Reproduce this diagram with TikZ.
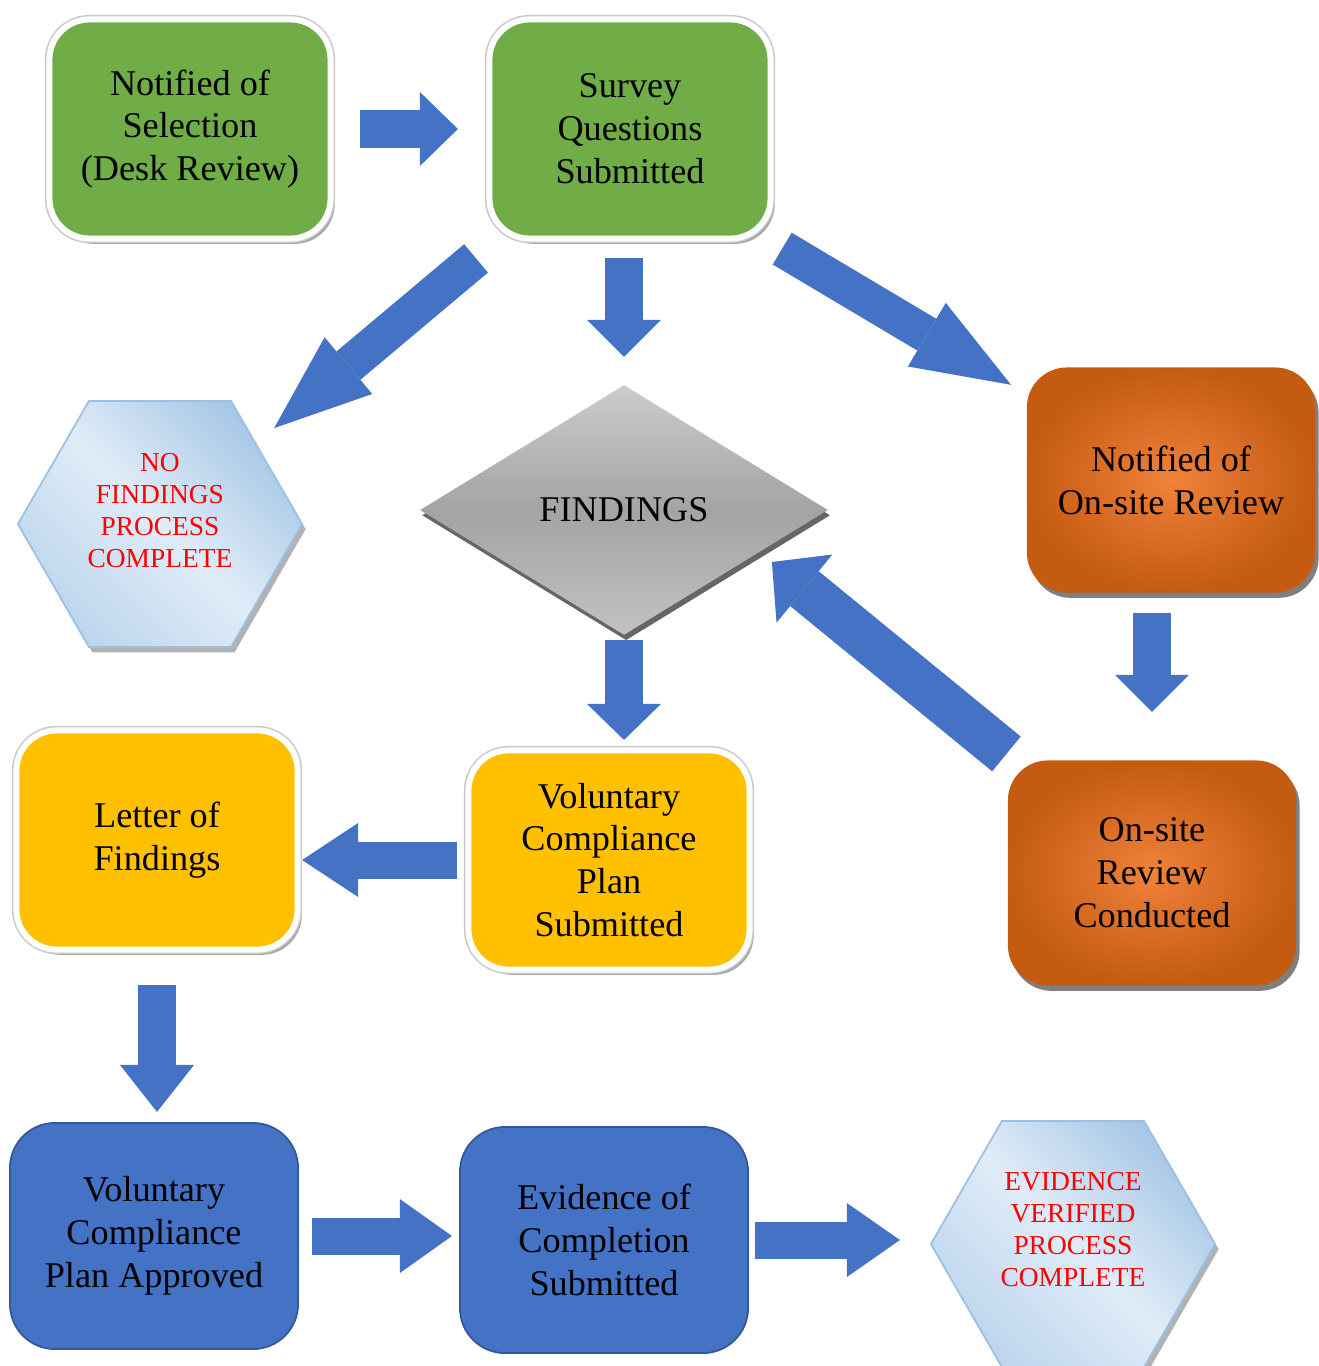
\documentclass[tikz,border=0pt]{standalone}
\usepackage{fontspec}
\setmainfont{Liberation Serif}
\usetikzlibrary{arrows.meta,shapes.geometric,shadows}
\definecolor{boxgreen}{RGB}{112,173,71}
\definecolor{boxyellow}{RGB}{255,192,0}
\definecolor{boxblue}{RGB}{68,114,196}
\definecolor{blueedge}{RGB}{52,88,155}
\definecolor{orangelight}{RGB}{240,130,58}
\definecolor{orangedark}{RGB}{197,90,17}
\definecolor{hexlight}{RGB}{224,236,248}
\definecolor{hexdark}{RGB}{166,199,230}
\definecolor{hexedge}{RGB}{157,192,226}
\definecolor{ringgray}{RGB}{200,200,200}
\definecolor{arrowblue}{RGB}{68,114,196}
\definecolor{donered}{RGB}{255,0,0}

\begin{document}
\begin{tikzpicture}[x=0.01cm,y=-0.01cm,
  boxtext/.style={align=center,font=\fontsize{10.3}{12.2}\selectfont,text=black},
  hexatext/.style={align=center,font=\fontsize{7.8}{9.1}\selectfont,text=donered},
  roundbox/.style={boxtext,rectangle,rounded corners=0.4cm,inner sep=0pt},
  ringbox/.style={roundbox,fill=#1,draw=white,line width=0.06cm,minimum width=2.81cm,minimum height=2.19cm,
    drop shadow={shadow xshift=1.2pt,shadow yshift=-1.5pt,opacity=0.35,fill=black},
    preaction={draw=ringgray,line width=0.09cm}},
  orangebox/.style={roundbox,shading=radial,inner color=orangelight,outer color=orangedark,
    minimum width=2.88cm,minimum height=2.25cm,
    drop shadow={shadow xshift=1pt,shadow yshift=-1.5pt,opacity=0.5,fill=black}},
  bluebox/.style={roundbox,fill=boxblue,draw=blueedge,line width=0.5pt,rounded corners=0.45cm,
    minimum width=2.88cm,minimum height=2.26cm},
  hexa/.style={regular polygon,regular polygon sides=6,minimum size=2.84cm,inner sep=0pt,
    draw=hexedge,line width=0.5pt,top color=hexdark,bottom color=hexdark!60!hexlight,middle color=hexlight,
    shading angle=-45,drop shadow={shadow xshift=1pt,shadow yshift=-1.5pt,opacity=0.3,fill=black}},
  decision/.style={boxtext,diamond,aspect=1.6,inner sep=0pt,minimum width=4.08cm,minimum height=2.5cm,
    top color=gray!40,bottom color=gray!48,middle color=gray!72,
    drop shadow={shadow xshift=0.6pt,shadow yshift=-1.5pt,opacity=0.6,fill=black}},
  blockarrow/.style={draw=arrowblue,line width=0.37cm,-{Triangle[line width=0pt,length=#1,width=0.74cm]}},
  blockarrow/.default=0.45cm]
\useasboundingbox (0,0) rectangle (1319,1366);

\node[ringbox=boxgreen] (sel) at (190,129) {Notified of\\Selection\\(Desk Review)};
\node[ringbox=boxgreen] (surv) at (630,129) {Survey\\Questions\\Submitted};
\node[hexa,label={[hexatext,yshift=0.13cm]center:NO\\FINDINGS\\PROCESS\\COMPLETE}] (nofind) at (160,524) {};
\node[decision] (find) at (624,510) {FINDINGS};
\node[orangebox] (onnot) at (1171,480) {Notified of\\On-site Review};
\node[orangebox] (oncond) at (1152,873) {On-site\\Review\\Conducted};
\node[ringbox=boxyellow] (letter) at (157,840) {Letter of\\Findings};
\node[ringbox=boxyellow] (vcpsub) at (609,860) {Voluntary\\Compliance\\Plan\\Submitted};
\node[bluebox] (vcpok) at (154,1236) {Voluntary\\Compliance\\Plan Approved};
\node[bluebox] (evid) at (604,1240) {Evidence of\\Completion\\Submitted};
\node[hexa,label={[hexatext,yshift=0.14cm]center:EVIDENCE\\VERIFIED\\PROCESS\\COMPLETE}] (verified) at (1073,1244) {};

\draw[blockarrow=0.38cm,shorten <=1.70cm,shorten >=1.72cm] (sel.center) -- (surv.center);
\draw[blockarrow=0.37cm,shorten <=1.29cm,shorten >=1.53cm] (surv.center -| find.center) -- (find.center);
\draw[blockarrow=0.97cm,shorten <=2.01cm,shorten >=1.49cm] (surv.center) -- (nofind.center);
\draw[blockarrow=0.98cm,shorten <=1.77cm,shorten >=1.86cm] ([yshift=-0.29cm]surv.center) -- (onnot.center);
\draw[blockarrow=0.36cm,shorten <=1.30cm,shorten >=1.20cm] (find.center) -- (find.center |- vcpsub.center);
\draw[blockarrow=0.37cm,shorten <=1.33cm,shorten >=1.61cm] (onnot.center -| oncond.center) -- (oncond.center);
\draw[arrowblue,line width=0.45cm,-{Triangle[line width=0pt,length=0.42cm,width=0.88cm]},
  shorten <=1.88cm,shorten >=1.91cm] (oncond.center) -- ([yshift=0.69cm]find.center);
\draw[blockarrow=0.56cm,shorten <=1.52cm,shorten >=1.45cm] (vcpsub.center) -- (vcpsub.center -| letter.center);
\draw[blockarrow=0.47cm,shorten <=1.45cm,shorten >=1.24cm] (letter.center) -- (letter.center |- vcpok.center);
\draw[blockarrow=0.52cm,shorten <=1.58cm,shorten >=1.52cm] (vcpok.center) -- (vcpok.center -| evid.center);
\draw[blockarrow=0.53cm,shorten <=1.51cm,shorten >=1.73cm] (evid.center) -- (evid.center -| verified.center);
\end{tikzpicture}
\end{document}
